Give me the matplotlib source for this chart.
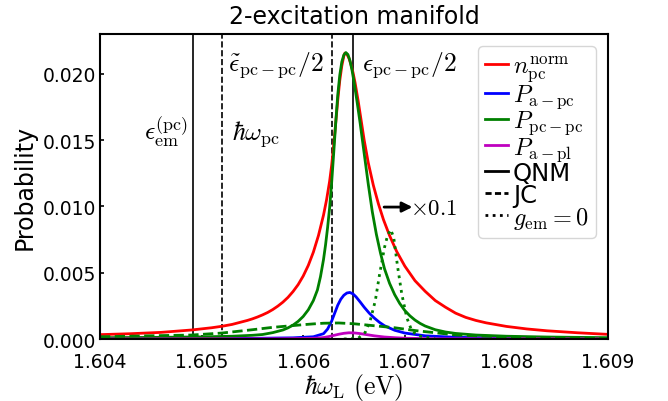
import matplotlib
matplotlib.use('Agg')
import matplotlib.pyplot as plt
from matplotlib.lines import Line2D

plt.rcParams['mathtext.fontset'] = 'cm'
plt.rcParams['font.size'] = 13.5

# photon energy (eV) and probabilities, QNM model
x_n = [1.6040, 1.6043, 1.6046, 1.6049, 1.6051, 1.6052, 1.6053, 1.60535, 1.6054,
       1.60545, 1.6055, 1.60555, 1.6056, 1.60565, 1.6057, 1.60575, 1.6058,
       1.60585, 1.6059, 1.60595, 1.6060, 1.60605, 1.6061, 1.60615, 1.6062,
       1.60623, 1.60626, 1.60628, 1.6063, 1.60632, 1.60634, 1.60636, 1.60638,
       1.6064, 1.60641, 1.60643, 1.60645, 1.60647, 1.60649, 1.60651, 1.60654,
       1.60657, 1.6066, 1.60664, 1.60669, 1.60674, 1.60679, 1.60685, 1.60692,
       1.6070, 1.6071, 1.6072, 1.6073, 1.6074, 1.6075, 1.6076, 1.6077, 1.6078,
       1.6080, 1.6082, 1.6084, 1.6087, 1.6090]
n_norm = [0.00033, 0.00040, 0.00050, 0.00068, 0.00085, 0.00096, 0.00110, 0.00120, 0.00130,
          0.00140, 0.00152, 0.00166, 0.00182, 0.00200, 0.00222, 0.00248, 0.00278,
          0.00314, 0.00358, 0.00410, 0.00475, 0.00555, 0.00655, 0.00780, 0.00935,
          0.01050, 0.01190, 0.01310, 0.01460, 0.01630, 0.01800, 0.01950, 0.02060,
          0.02135, 0.02156, 0.02148, 0.02118, 0.02070, 0.02010, 0.01935, 0.01800,
          0.01650, 0.01500, 0.01330, 0.01160, 0.01020, 0.00900, 0.00780, 0.00660,
          0.00550, 0.00440, 0.00360, 0.00290, 0.00240, 0.00195, 0.00163, 0.00140, 0.00122,
          0.00095, 0.00076, 0.00062, 0.00047, 0.00035]

x_pp = [1.6040, 1.6045, 1.6050, 1.6053, 1.6055, 1.6056, 1.6057, 1.6058, 1.60585,
        1.6059, 1.60595, 1.6060, 1.60605, 1.6061, 1.60614, 1.60617, 1.6062,
        1.60622, 1.60624, 1.60626, 1.60628, 1.6063, 1.60632, 1.60634, 1.60636,
        1.60638, 1.6064, 1.60642, 1.60644, 1.60646, 1.60648, 1.6065, 1.60653,
        1.60656, 1.6066, 1.60664, 1.60668, 1.60672, 1.60676, 1.6068, 1.60685,
        1.6069, 1.60695, 1.6070, 1.60705, 1.6071, 1.60715, 1.6072, 1.6073, 1.6074,
        1.6075, 1.6077, 1.6080, 1.6084, 1.6090]
p_pcpc = [0.00010, 0.00012, 0.00016, 0.00021, 0.00028, 0.00034, 0.00048, 0.00068, 0.00084,
          0.00105, 0.00133, 0.00170, 0.00220, 0.00290, 0.00370, 0.00470, 0.00600,
          0.00710, 0.00840, 0.00990, 0.01180, 0.01400, 0.01630, 0.01840, 0.01990,
          0.02090, 0.02142, 0.02160, 0.02145, 0.02100, 0.02030, 0.01940, 0.01790,
          0.01630, 0.01400, 0.01170, 0.00960, 0.00790, 0.00650, 0.00530, 0.00420,
          0.00335, 0.00268, 0.00215, 0.00175, 0.00143, 0.00118, 0.00098, 0.00070, 0.00053,
          0.00042, 0.00030, 0.00021, 0.00015, 0.00010]

x_apc = [1.6040, 1.6055, 1.6059, 1.6061, 1.6062, 1.60624, 1.60628, 1.60631, 1.60634,
         1.60637, 1.6064, 1.60643, 1.60646, 1.60649, 1.60652, 1.60656, 1.6066,
         1.60665, 1.6067, 1.60675, 1.6068, 1.6069, 1.6070, 1.6072, 1.6075, 1.6080, 1.6090]
p_apc = [0.00003, 0.00005, 0.00009, 0.00017, 0.00040, 0.00075, 0.00135, 0.00195, 0.00255,
         0.00300, 0.00330, 0.00347, 0.00351, 0.00340, 0.00318, 0.00280, 0.00240,
         0.00195, 0.00158, 0.00126, 0.00100, 0.00066, 0.00045, 0.00024, 0.00013, 0.00007, 0.00004]

x_apl = [1.6040, 1.6058, 1.6061, 1.6062, 1.60625, 1.6063, 1.60635, 1.6064, 1.60645,
         1.6065, 1.60655, 1.6066, 1.60665, 1.6067, 1.6068, 1.6069, 1.6070, 1.6073, 1.6090]
p_apl = [0.00001, 0.00002, 0.00005, 0.00011, 0.00018, 0.00027, 0.00036, 0.00043, 0.00047,
         0.00046, 0.00042, 0.00036, 0.00030, 0.00024, 0.00015, 0.00010, 0.00006, 0.00002, 0.00001]

# JC model
x_jc = [1.6040, 1.6049, 1.6052, 1.6055, 1.6057, 1.6060, 1.6061, 1.6062, 1.60635,
        1.6065, 1.6067, 1.6069, 1.60711, 1.60751, 1.6080, 1.6085, 1.6090]
p_pcpc_jc = [0.00017, 0.00030, 0.00045, 0.00070, 0.00088, 0.00108, 0.00114, 0.00119, 0.00121,
             0.00115, 0.00100, 0.00085, 0.00063, 0.00030, 0.00015, 0.00008, 0.00005]

# uncoupled emitter (g_em = 0), scaled by 0.1
x_g0 = [1.60640, 1.60654, 1.60661, 1.60666, 1.60671, 1.60675, 1.60680, 1.60683,
        1.60686, 1.60689, 1.60693, 1.60697, 1.60702, 1.60707, 1.60713, 1.60730]
p_pcpc_g0 = [0.00000, 0.00005, 0.00050, 0.00140, 0.00290, 0.00480, 0.00690, 0.00780,
             0.00825, 0.00770, 0.00540, 0.00340, 0.00160, 0.00060, 0.00025, 0.00000]

# characteristic energies
e_em_pc = 1.604918
hw_pc = 1.605204
eps_tilde_half = 1.606280
eps_half = 1.606493

fig = plt.figure(figsize=(6.68, 4.02), dpi=100)
ax = fig.add_axes([0.1497, 0.1542, 0.7605, 0.7587])

ax.axvline(e_em_pc, color='k', lw=1.2)
ax.axvline(hw_pc, color='k', lw=1.2, ls='--')
ax.axvline(eps_tilde_half, color='k', lw=1.2, ls='--')
ax.axvline(eps_half, color='k', lw=1.2)

ax.plot(x_n, n_norm, color='red', lw=2)
ax.plot(x_apc, p_apc, color='blue', lw=2)
ax.plot(x_pp, p_pcpc, color='green', lw=2)
ax.plot(x_apl, p_apl, color='m', lw=2)
ax.plot(x_jc, p_pcpc_jc, color='green', lw=2, ls='--')
ax.plot(x_g0, p_pcpc_g0, color='green', lw=2, ls=':')

ax.text(1.604866, 0.0157, r'$\epsilon_{\rm em}^{\rm (pc)}$', ha='right', va='center', fontsize=18.5)
ax.text(1.605296, 0.0155, r'$\hbar\omega_{\rm pc}$', ha='left', va='center', fontsize=18.5)
ax.text(1.606205, 0.0207, r'$\tilde{\epsilon}_{\rm pc-pc}/2$', ha='right', va='center', fontsize=18.5)
ax.text(1.606576, 0.0207, r'$\epsilon_{\rm pc-pc}/2$', ha='left', va='center', fontsize=18.5)

ax.annotate('', xy=(1.607075, 0.00995), xytext=(1.606796, 0.00995),
            arrowprops=dict(arrowstyle='-|>', color='k', lw=2, shrinkA=0, shrinkB=0,
                            mutation_scale=15))
ax.text(1.60705, 0.00995, r'$\times0.1$', ha='left', va='center', fontsize=16.5)

ax.set_xlim(1.604, 1.609)
ax.set_ylim(0, 0.023)
ax.set_xticks([1.604, 1.605, 1.606, 1.607, 1.608, 1.609])
ax.set_xticklabels(['1.604', '1.605', '1.606', '1.607', '1.608', '1.609'])
ax.set_yticks([0.0, 0.005, 0.010, 0.015, 0.020])
ax.set_yticklabels(['0.000', '0.005', '0.010', '0.015', '0.020'])
ax.tick_params(direction='in', length=3, width=1.2)
ax.tick_params(axis='x', pad=9)
ax.tick_params(axis='y', pad=3)
for s in ax.spines.values():
    s.set_linewidth(1.5)

ax.set_xlabel(r'$\hbar\omega_{\rm L}\ {\rm (eV)}$', fontsize=18.5, labelpad=0)
ax.set_ylabel('Probability', fontsize=17, labelpad=4)
ax.set_title('2-excitation manifold', fontsize=17, pad=8)

handles = [Line2D([], [], color='red', lw=2),
           Line2D([], [], color='blue', lw=2),
           Line2D([], [], color='green', lw=2),
           Line2D([], [], color='m', lw=2),
           Line2D([], [], color='k', lw=2),
           Line2D([], [], color='k', lw=2, ls=(0, (2.2, 1.2))),
           Line2D([], [], color='k', lw=2, ls=(0, (1, 1.6)))]
labels = [r'$n_{\rm pc}^{\rm norm}$', r'$P_{\rm a-pc}$', r'$P_{\rm pc-pc}$',
          r'$P_{\rm a-pl}$', 'QNM', 'JC', r'$g_{\rm em}=0$']
ax.legend(handles, labels, loc='upper right', fontsize=17.5, handlelength=0.95,
          handletextpad=0.2, labelspacing=-0.08, borderpad=0.3, borderaxespad=0.5)

fig.savefig('out.png', dpi=100)
